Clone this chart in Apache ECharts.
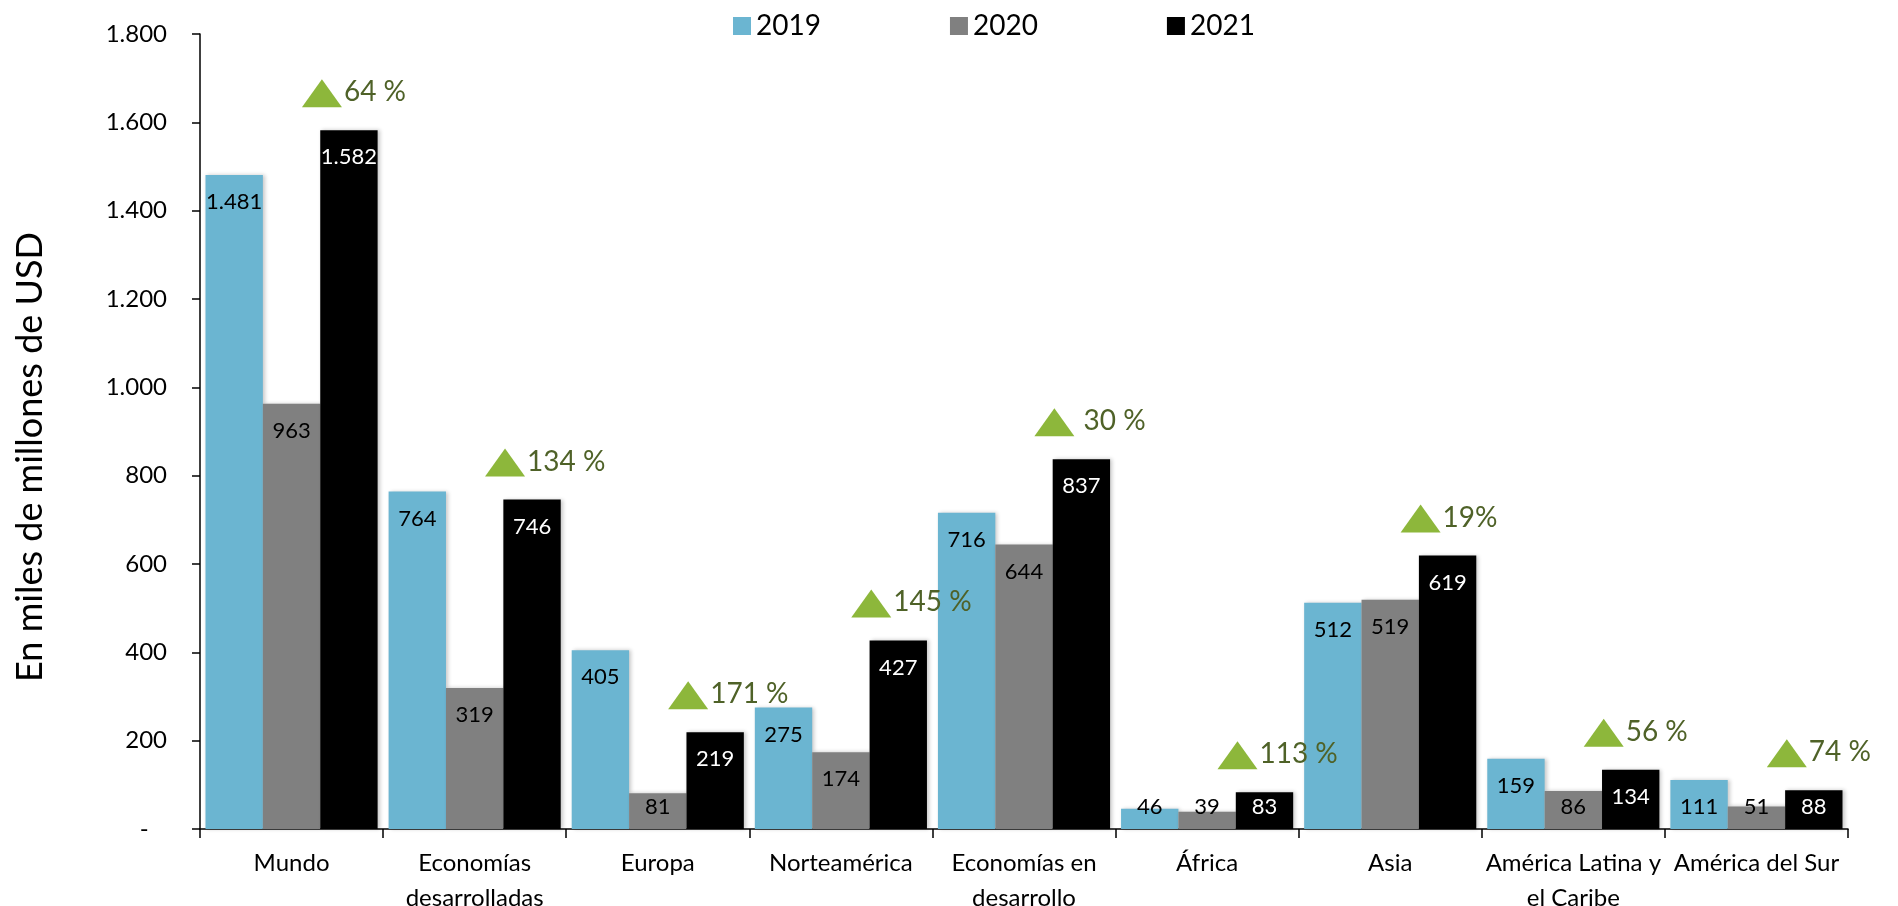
<!DOCTYPE html>
<html>
<head>
<meta charset="utf-8">
<script src="https://cdn.jsdelivr.net/npm/echarts@6/dist/echarts.min.js"></script>
<style>
html,body{margin:0;padding:0;background:#fff;}
#chart{width:1898px;height:906px;}
</style>
</head>
<body>
<div id="chart"></div>
<script>
var categories = ['Mundo', 'Economías\ndesarrolladas', 'Europa', 'Norteamérica', 'Economías en\ndesarrollo', 'África', 'Asia', 'América Latina y\nel Caribe', 'América del Sur'];
var seriesNames = ['2019', '2020', '2021'];
var v2019 = [1481, 764, 405, 275, 716, 46, 512, 159, 111];
var v2020 = [963, 319, 81, 174, 644, 39, 519, 86, 51];
var v2021 = [1582, 746, 219, 427, 837, 83, 619, 134, 88];
var growthLabels = ['64 %', '134 %', '171 %', '145 %', ' 30 %', '113 %', '19%', '56 %', '74 %'];
var yTicks = [0, 200, 400, 600, 800, 1000, 1200, 1400, 1600, 1800];

var colors = ['#6BB5D1', '#808080', '#000000'];
var labelColors = ['#000000', '#000000', '#ffffff'];
var FONT = 'Lato';
var CAT_GAP = 0.06;

function fmt(v) {
  if (v === 0) return '-   ';
  return String(v).replace(/\B(?=(\d{3})+(?!\d))/g, '.');
}

function buildData(values) {
  return values.map(function (v) {
    var item = { value: v };
    if (v < 110) {
      item.label = { position: 'insideBottom', distance: 11 };
    }
    return item;
  });
}

function barSeries(name, values, idx) {
  return {
    name: name,
    type: 'bar',
    barGap: '0%',
    barCategoryGap: (CAT_GAP * 100) + '%',
    itemStyle: {
      color: colors[idx],
      shadowColor: 'rgba(0,0,0,0.22)',
      shadowBlur: 4,
      shadowOffsetX: 2,
      shadowOffsetY: 0
    },
    label: {
      show: true,
      position: 'insideTop',
      distance: 16,
      formatter: function (p) { return fmt(p.value); },
      color: labelColors[idx],
      fontFamily: FONT,
      fontSize: 22
    },
    emphasis: { disabled: true },
    data: buildData(values)
  };
}

var chart = echarts.init(document.getElementById('chart'), null, { renderer: 'canvas' });

var option = {
  animation: false,
  backgroundColor: '#ffffff',
  textStyle: { fontFamily: FONT },
  grid: { left: 200, right: 50, top: 34, bottom: 77, containLabel: false, outerBoundsMode: 'none' },
  legend: {
    data: seriesNames,
    left: 733,
    top: 12,
    padding: 0,
    itemWidth: 18,
    itemHeight: 18,
    itemGap: 129,
    icon: 'rect',
    textStyle: { fontFamily: FONT, fontSize: 28, color: '#000' }
  },
  graphic: [{
    type: 'text',
    x: 30,
    y: 457,
    rotation: Math.PI / 2,
    style: {
      text: 'En miles de millones de USD',
      font: '36px ' + FONT,
      fill: '#000',
      textAlign: 'center',
      textVerticalAlign: 'middle'
    }
  }],
  xAxis: {
    type: 'category',
    data: categories,
    axisLine: { show: true, lineStyle: { color: '#000', width: 1.5 } },
    axisTick: { show: true, length: 9, lineStyle: { color: '#000', width: 1.5 } },
    axisLabel: {
      interval: 0,
      margin: 17,
      color: '#000',
      fontFamily: FONT,
      fontSize: 24,
      lineHeight: 35
    },
    splitLine: { show: false }
  },
  yAxis: {
    type: 'value',
    min: yTicks[0],
    max: yTicks[yTicks.length - 1],
    interval: yTicks[1] - yTicks[0],
    axisLine: { show: true, lineStyle: { color: '#000', width: 1.5 } },
    axisTick: { show: true, length: 8, inside: false, lineStyle: { color: '#000', width: 1.5 } },
    axisLabel: {
      margin: 33,
      color: '#000',
      fontFamily: FONT,
      fontSize: 24,
      formatter: function (v) { return fmt(v); }
    },
    splitLine: { show: false }
  },
  series: [
    barSeries(seriesNames[0], v2019, 0),
    barSeries(seriesNames[1], v2020, 1),
    barSeries(seriesNames[2], v2021, 2),
    {
      type: 'custom',
      name: 'crecimiento',
      silent: true,
      z: 10,
      data: v2021.map(function (v, i) { return [i, v]; }),
      renderItem: function (params, api) {
        var i = api.value(0);
        var v = api.value(1);
        var pt = api.coord([i, v]);
        var catW = api.size([1, 0])[0];
        var barW = catW * (1 - CAT_GAP) / 3;
        var cx = pt[0] + barW - 27;
        var base = pt[1] - 23;
        return {
          type: 'group',
          children: [
            {
              type: 'polygon',
              shape: { points: [[cx - 20, base], [cx + 20, base], [cx, base - 28]] },
              style: { fill: '#8DB73B' }
            },
            {
              type: 'text',
              style: {
                text: growthLabels[params.dataIndex],
                x: cx + 22,
                y: base - 15,
                textAlign: 'left',
                textVerticalAlign: 'middle',
                font: '28px ' + FONT,
                fill: '#4F6228'
              }
            }
          ]
        };
      }
    }
  ]
};

chart.setOption(option);
</script>
</body>
</html>
